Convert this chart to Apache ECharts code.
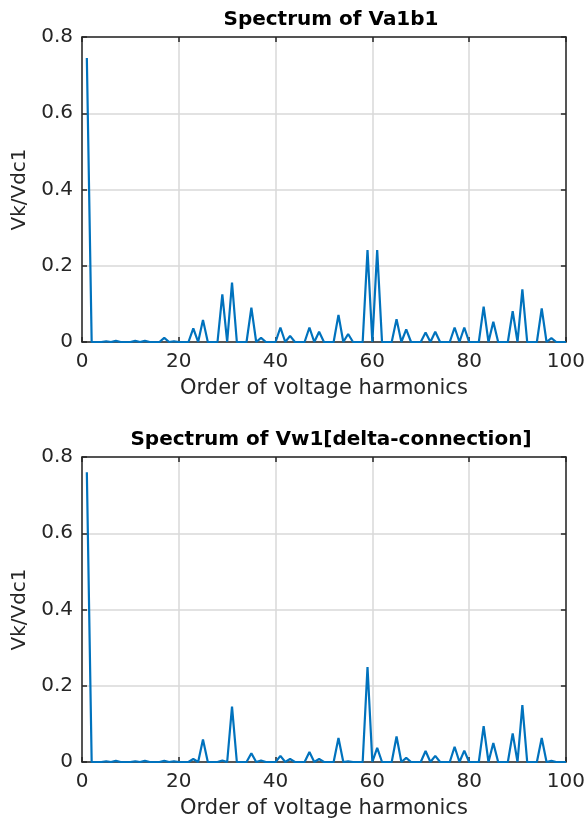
<!DOCTYPE html>
<html>
<head>
<meta charset="utf-8">
<script src="https://cdn.jsdelivr.net/npm/echarts@6/dist/echarts.min.js"></script>
<style>
html,body{margin:0;padding:0;background:#fff;}
#chart{width:588px;height:820px;}
</style>
</head>
<body>
<div id="chart"></div>
<script>
// harmonic orders 1..100 (value i belongs to order i+1)
var orders = [];
for (var k = 1; k <= 100; k++) orders.push(k);

// Vk/Vdc1 of Va1b1
var va1b1 = [
  0.745, 0, 0, 0, 0.002, 0, 0.003, 0, 0, 0,
  0.003, 0, 0.003, 0, 0, 0, 0.011, 0, 0.002, 0,
  0, 0, 0.036, 0, 0.058, 0, 0, 0, 0.125, 0,
  0.156, 0, 0, 0, 0.090, 0, 0.011, 0, 0, 0,
  0.038, 0, 0.016, 0, 0, 0, 0.038, 0, 0.027, 0,
  0, 0, 0.071, 0, 0.021, 0, 0, 0, 0.241, 0,
  0.241, 0, 0, 0, 0.060, 0, 0.033, 0, 0, 0,
  0.025, 0, 0.027, 0, 0, 0, 0.038, 0, 0.038, 0,
  0, 0, 0.093, 0, 0.053, 0, 0, 0, 0.081, 0,
  0.138, 0, 0, 0, 0.088, 0, 0.010, 0, 0, 0
];

// Vk/Vdc1 of Vw1 (delta connection)
var vw1 = [
  0.760, 0, 0, 0, 0.002, 0, 0.003, 0, 0, 0,
  0.002, 0, 0.003, 0, 0, 0, 0.003, 0, 0.002, 0,
  0, 0, 0.008, 0, 0.059, 0, 0, 0, 0.004, 0,
  0.145, 0, 0, 0, 0.023, 0, 0.004, 0, 0, 0,
  0.016, 0, 0.008, 0, 0, 0, 0.026, 0, 0.008, 0,
  0, 0, 0.063, 0, 0.002, 0, 0, 0, 0.249, 0,
  0.037, 0, 0, 0, 0.067, 0, 0.011, 0, 0, 0,
  0.029, 0, 0.016, 0, 0, 0, 0.040, 0, 0.030, 0,
  0, 0, 0.094, 0, 0.050, 0, 0, 0, 0.075, 0,
  0.149, 0, 0, 0, 0.063, 0, 0.003, 0, 0, 0
];

var titles = ['Spectrum of Va1b1', 'Spectrum of Vw1[delta-connection]'];
var xTicks = [0, 20, 40, 60, 80, 100];
var yTicks = [0, 0.2, 0.4, 0.6, 0.8];

function pairs(vals) {
  return orders.map(function (o, i) { return [o, vals[i]]; });
}

var font = 'DejaVu Sans, Liberation Sans, sans-serif';
var dark = '#262626';
var grids = [
  {left: 82, top: 37, width: 487, height: 305},
  {left: 82, top: 457, width: 487, height: 309}
];

var xAxes = [], yAxes = [], series = [], titleOpts = [];
[va1b1, vw1].forEach(function (vals, g) {
  var common = {gridIndex: g, type: 'value', min: 0, max: 100, interval: 20};
  xAxes.push(Object.assign({}, common, {
    position: 'bottom',
    name: 'Order of voltage harmonics', nameLocation: 'middle', nameGap: 36,
    nameTextStyle: {fontFamily: font, fontSize: 21, color: dark},
    axisLine: {show: true, onZero: false, lineStyle: {color: dark, width: 1.5}},
    axisTick: {show: true, inside: true, length: 5, lineStyle: {color: dark, width: 1.5}},
    axisLabel: {fontFamily: font, fontSize: 20, color: dark, margin: 10,
      formatter: function (v) { return xTicks.indexOf(v) >= 0 ? String(v) : ''; }},
    splitLine: {show: true, lineStyle: {color: '#d9d9d9', width: 1.5}}
  }));
  xAxes.push(Object.assign({}, common, {
    position: 'top',
    axisLine: {show: true, onZero: false, lineStyle: {color: dark, width: 1.5}},
    axisTick: {show: true, inside: true, length: 5, lineStyle: {color: dark, width: 1.5}},
    axisLabel: {show: false}, splitLine: {show: false}
  }));
  var ycommon = {gridIndex: g, type: 'value', min: 0, max: 0.8, interval: 0.2};
  yAxes.push(Object.assign({}, ycommon, {
    position: 'left',
    name: 'Vk/Vdc1', nameLocation: 'middle', nameGap: 50, nameRotate: 90,
    nameTextStyle: {fontFamily: font, fontSize: 20, color: dark},
    axisLine: {show: true, onZero: false, lineStyle: {color: dark, width: 1.5}},
    axisTick: {show: true, inside: true, length: 5, lineStyle: {color: dark, width: 1.5}},
    axisLabel: {fontFamily: font, fontSize: 20, color: dark, margin: 9,
      formatter: function (v) { return yTicks.indexOf(v) === 0 ? '0' : v.toFixed(1); }},
    splitLine: {show: true, lineStyle: {color: '#d9d9d9', width: 1.5}}
  }));
  yAxes.push(Object.assign({}, ycommon, {
    position: 'right',
    axisLine: {show: true, onZero: false, lineStyle: {color: dark, width: 1.5}},
    axisTick: {show: true, inside: true, length: 5, lineStyle: {color: dark, width: 1.5}},
    axisLabel: {show: false}, splitLine: {show: false}
  }));
  series.push({
    type: 'line', xAxisIndex: g * 2, yAxisIndex: g * 2,
    data: pairs(vals), showSymbol: false, symbol: 'none',
    lineStyle: {color: '#0072BD', width: 2.2}, z: 3
  });
  titleOpts.push({
    text: titles[g], left: 326, top: grids[g].top - 32, textAlign: 'center',
    textStyle: {fontFamily: font, fontSize: 20, fontWeight: 'bold', color: '#000'}
  });
});

var chart = echarts.init(document.getElementById('chart'), null, {renderer: 'canvas'});
chart.setOption({
  backgroundColor: '#fff',
  animation: false,
  title: titleOpts,
  grid: grids,
  xAxis: xAxes,
  yAxis: yAxes,
  series: series
});
</script>
</body>
</html>
